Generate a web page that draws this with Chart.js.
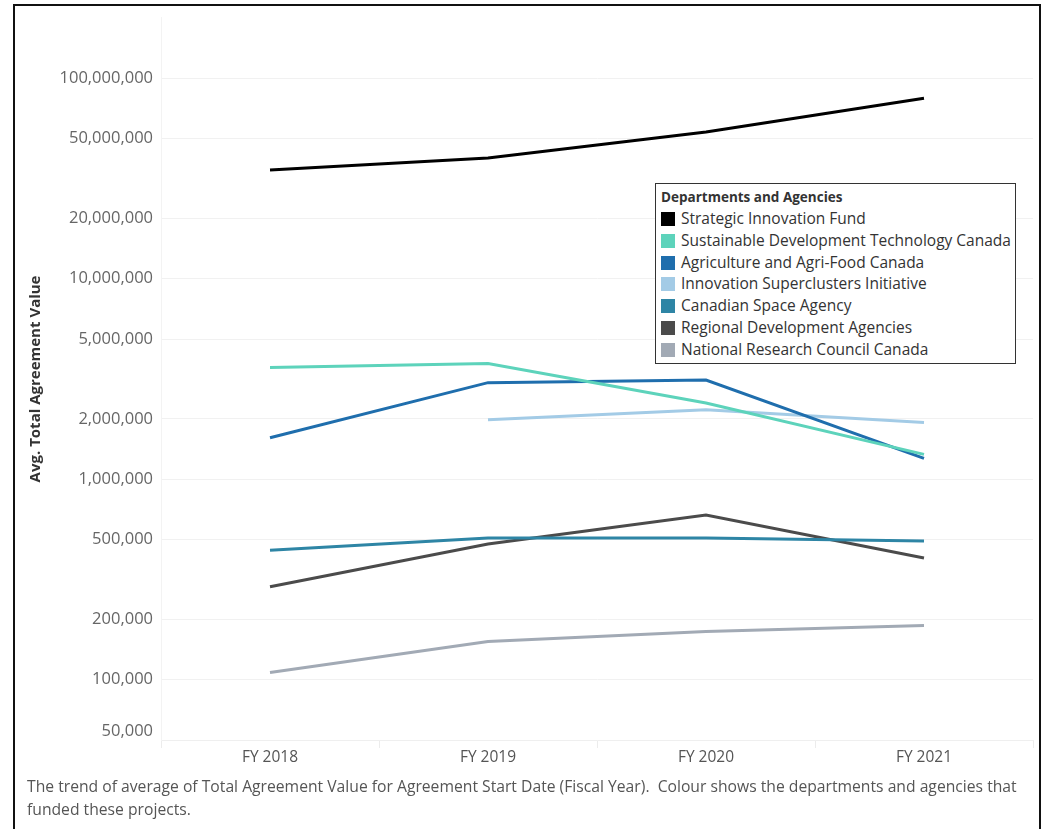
<!DOCTYPE html>
<html>
<head>
<meta charset="utf-8">
<script src="https://cdn.jsdelivr.net/npm/chart.js@4.4.0/dist/chart.umd.min.js"></script>
<style>
  body { margin: 0; background: #fff; }
  #frame {
    position: absolute; left: 13px; top: 4px; width: 1028px; height: 840px;
    border: 2px solid #111; box-sizing: border-box;
  }
  #chartBox { position: absolute; left: 0; top: 0; width: 1051px; height: 780px; }
  #legend {
    position: absolute; left: 655px; top: 183px; width: 361px; height: 181px;
    border: 1px solid #333; box-sizing: border-box; background: #fff;
    font-family: "Open Sans", sans-serif; font-size: 15.5px; color: #333;
    padding: 3px 0 0 5px;
  }
  #legend .title { font-weight: bold; font-size: 13.5px; line-height: 21px; }
  #legend .item { line-height: 21.8px; white-space: nowrap; }
  #legend .sw { display: inline-block; width: 14px; height: 14px; vertical-align: -2px; margin-right: 6px; }
  #caption {
    position: absolute; left: 27px; top: 775px; width: 1000px;
    font-family: "Open Sans", sans-serif; font-size: 15.7px;
    line-height: 23px; color: #555;
  }
</style>
</head>
<body>
<div id="frame"></div>
<div id="chartBox"><canvas id="trendChart"></canvas></div>
<div id="legend"></div>
<div id="caption">The trend of average of Total Agreement Value for Agreement Start Date (Fiscal Year).&nbsp; Colour shows the departments and agencies that funded these projects.</div>
<script>
// Data
const fiscalYears = ['FY 2018', 'FY 2019', 'FY 2020', 'FY 2021'];

const strategicInnovationFund = [34900000, 40000000, 53900000, 79500000];
const sustainableDevTech = [3610000, 3780000, 2400000, 1330000];
const agricultureAgriFood = [1610000, 3030000, 3120000, 1270000];
const innovationSuperclusters = [null, 1980000, 2220000, 1920000];
const canadianSpaceAgency = [442000, 509000, 509000, 491000];
const regionalDevelopment = [291000, 475000, 662000, 404000];
const nationalResearchCouncil = [108700, 155000, 174000, 186000];

const departmentNames = [
    'Strategic Innovation Fund',
    'Sustainable Development Technology Canada',
    'Agriculture and Agri-Food Canada',
    'Innovation Superclusters Initiative',
    'Canadian Space Agency',
    'Regional Development Agencies',
    'National Research Council Canada'
];
const departmentColors = ['#000000', '#5dd3bb', '#1f6ead', '#a3cbe6', '#2e85a5', '#4b4b4b', '#a2aab5'];

const yTickValues = [50000, 100000, 200000, 500000, 1000000, 2000000, 5000000,
    10000000, 20000000, 50000000, 100000000];

const seriesValues = [
    strategicInnovationFund,
    sustainableDevTech,
    agricultureAgriFood,
    innovationSuperclusters,
    canadianSpaceAgency,
    regionalDevelopment,
    nationalResearchCouncil
];

// Legend (html, sits inside the plot area)
const legendEl = document.getElementById('legend');
let legendHtml = '<div class="title">Departments and Agencies</div>';
departmentNames.forEach((name, i) => {
    legendHtml += '<div class="item"><span class="sw" style="background:' + departmentColors[i] + '"></span>' + name + '</div>';
});
legendEl.innerHTML = legendHtml;

const datasets = seriesValues.map((vals, i) => ({
    label: departmentNames[i],
    data: vals,
    borderColor: departmentColors[i],
    backgroundColor: departmentColors[i],
    borderWidth: 3,
    pointRadius: 0,
    tension: 0,
    fill: false,
    order: i
}));

// bottom tick label sits a bit higher than its gridline, like the original
const liftBottomLabel = {
    id: 'liftBottomLabel',
    afterUpdate(chart) {
        const y = chart.scales.y;
        const items = y._labelItems || (y._labelItems = y._computeLabelItems(chart.chartArea));
        if (items && items.length) {
            items[0].options.translation[1] -= 9;
        }
    }
};

new Chart(document.getElementById('trendChart'), {
    type: 'line',
    data: { labels: fiscalYears, datasets: datasets },
    plugins: [liftBottomLabel],
    options: {
        responsive: true,
        maintainAspectRatio: false,
        animation: false,
        layout: { padding: { left: 21, right: 18, top: 16, bottom: 10 } },
        plugins: {
            legend: { display: false },
            tooltip: { enabled: false }
        },
        scales: {
            x: {
                type: 'category',
                offset: true,
                grid: {
                    offset: true,
                    drawOnChartArea: false,
                    drawTicks: true,
                    tickLength: 8,
                    color: '#ececec'
                },
                border: { color: '#efefef' },
                ticks: {
                    color: '#555',
                    padding: 0,
                    font: { family: '"Open Sans", sans-serif', size: 15.5 }
                },
                afterFit: scale => { scale.height = 30; }
            },
            y: {
                type: 'logarithmic',
                min: 50000,
                max: 200000000,
                afterBuildTicks: axis => {
                    axis.ticks = yTickValues.map(v => ({ value: v }));
                },
                afterFit: scale => { scale.width = 140; },
                grid: { color: '#f1f1f1', drawTicks: false },
                border: { color: '#f3f3f3' },
                ticks: {
                    color: '#666',
                    padding: 8,
                    font: { family: '"Open Sans", sans-serif', size: 16.5 },
                    callback: v => Number(v).toLocaleString('en-US')
                },
                title: {
                    display: true,
                    text: 'Avg. Total Agreement Value',
                    color: '#333',
                    padding: { top: 6, bottom: 0 },
                    font: { family: '"Open Sans", sans-serif', size: 15, weight: 'bold' }
                }
            }
        }
    }
});
</script>
</body>
</html>
